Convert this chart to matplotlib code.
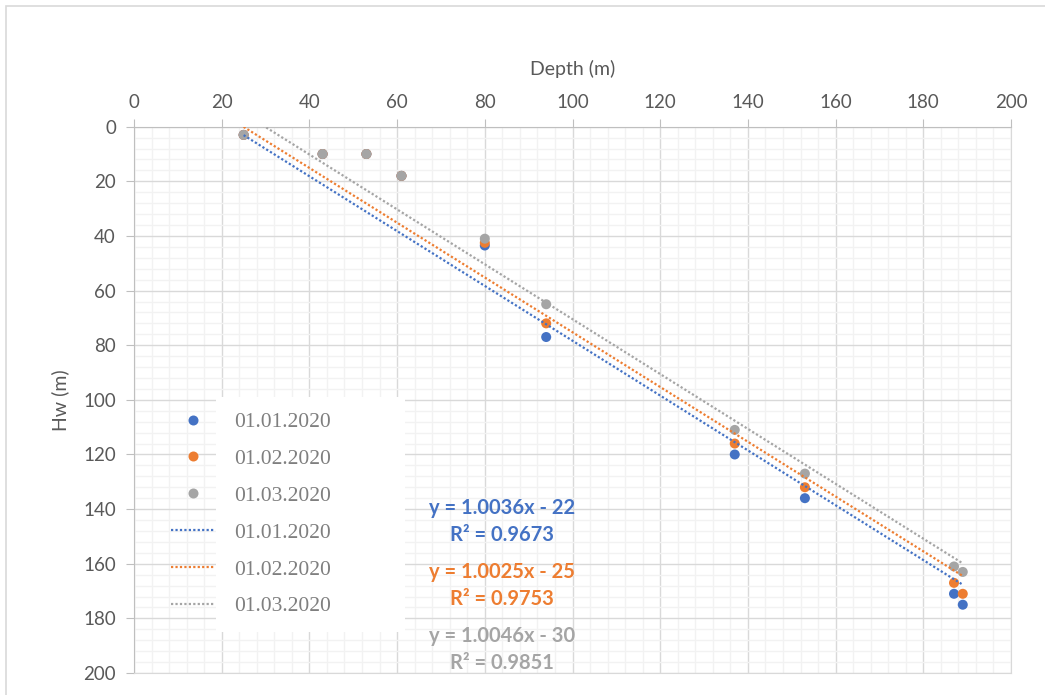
import matplotlib
matplotlib.use("Agg")
import matplotlib.pyplot as plt
import numpy as np
from matplotlib.patches import Rectangle
from matplotlib.lines import Line2D
from matplotlib.ticker import MultipleLocator

# Measured water level (Hw) against well depth, three survey dates
depth = [25, 43, 53, 61, 80, 94, 137, 153, 187, 189]
hw_jan = [3, 10, 10, 18, 43.5, 77, 120, 136, 171, 175]
hw_feb = [3, 10, 10, 18, 42.5, 72, 116, 132, 167, 171]
hw_mar = [3, 10, 10, 18, 41, 65, 111, 127, 161, 163]
dates = ["01.01.2020", "01.02.2020", "01.03.2020"]

# Linear trend coefficients and fit quality per date
slopes = [1.0036, 1.0025, 1.0046]
intercepts = [-22, -25, -30]
r2 = [0.9673, 0.9753, 0.9851]

colors = ["#4472C4", "#ED7D31", "#A5A5A5"]
TICK_C = "#595959"
W, H = 1045, 695

fig = plt.figure(figsize=(W / 100, H / 100), dpi=100)
ax = fig.add_axes([134 / W, 1 - 673 / H, (1011 - 134) / W, (673 - 126.7) / H])

# chart area border
fig.add_artist(Rectangle((6 / W, -0.05), 1.1, (H - 6) / H + 0.05,
                         transform=fig.transFigure, fill=False,
                         edgecolor="#D9D9D9", lw=1.2))

ax.set_xlim(0, 200)
ax.set_ylim(200, 0)
ax.xaxis.set_major_locator(MultipleLocator(20))
ax.xaxis.set_minor_locator(MultipleLocator(4))
ax.yaxis.set_major_locator(MultipleLocator(20))
ax.yaxis.set_minor_locator(MultipleLocator(4))
ax.grid(which="minor", color="#F2F2F2", lw=1.0, zorder=0)
ax.grid(which="major", color="#D9D9D9", lw=1.0, zorder=0)
ax.set_axisbelow(True)
for s in ax.spines.values():
    s.set_color("#D9D9D9")
ax.spines["left"].set_color("#BFBFBF")
ax.spines["top"].set_color("#BFBFBF")

ax.xaxis.tick_top()
ax.xaxis.set_label_position("top")
ax.tick_params(which="major", length=6, color="#BFBFBF", labelcolor=TICK_C,
               labelsize=13.5, pad=5)
ax.tick_params(axis="y", pad=7)
ax.tick_params(which="minor", length=0)
for lab in ax.get_xticklabels() + ax.get_yticklabels():
    lab.set_fontfamily("Lato")
ax.set_xlabel("Depth (m)", family="Lato", fontsize=14, color=TICK_C, labelpad=14)
ax.set_ylabel("Hw (m)", family="Lato", fontsize=14, color=TICK_C, labelpad=10)

series = [hw_jan, hw_feb, hw_mar]
for hw, c in zip(series, colors):
    ax.scatter(depth, hw, s=52, color=c, edgecolors="none", zorder=3)

xs = np.array([min(depth), max(depth)])
for k, b, c in zip(slopes, intercepts, colors):
    ax.plot(xs, k * xs + b, color=c, lw=1.6, linestyle=(0, (1, 1.0)), zorder=4)

# trendline equations
eq_y = [(139.6, 149.5), (163.0, 173.0), (186.6, 196.5)]
for k, b, r, c, (y1, y2) in zip(slopes, intercepts, r2, colors, eq_y):
    ax.text(83.9, y1, f"y = {k:.4f}x - {abs(b)}", color=c, ha="center",
            va="center", family="Lato", weight="bold", fontsize=14.5, zorder=5)
    ax.text(83.9, y2, f"R² = {r:.4f}", color=c, ha="center",
            va="center", family="Lato", weight="bold", fontsize=14.5, zorder=5)

# legend: white panel behind the labels
ax.add_patch(Rectangle((216 / W, 1 - 632 / H), (405 - 216) / W, (632 - 397) / H,
                       transform=fig.transFigure, facecolor="white",
                       edgecolor="none", zorder=2.5, clip_on=False))
handles = [Line2D([], [], ls="none", marker="o", ms=7.2, color=c, mec="none")
           for c in colors]
handles += [Line2D([], [], color=c, lw=1.6, ls=(0, (1, 1.0))) for c in colors]
leg = ax.legend(handles, dates + dates, loc="upper left",
                bbox_to_anchor=(171 / W, 1 - 412 / H),
                bbox_transform=fig.transFigure, frameon=False,
                borderpad=0, borderaxespad=0, handlelength=2.0,
                handletextpad=0.95, labelspacing=0.78,
                prop={"family": "Liberation Serif", "size": 15.5})
for t in leg.get_texts():
    t.set_color("#7F7F7F")
leg.set_zorder(6)

fig.savefig("out.png", dpi=100, facecolor="white")
